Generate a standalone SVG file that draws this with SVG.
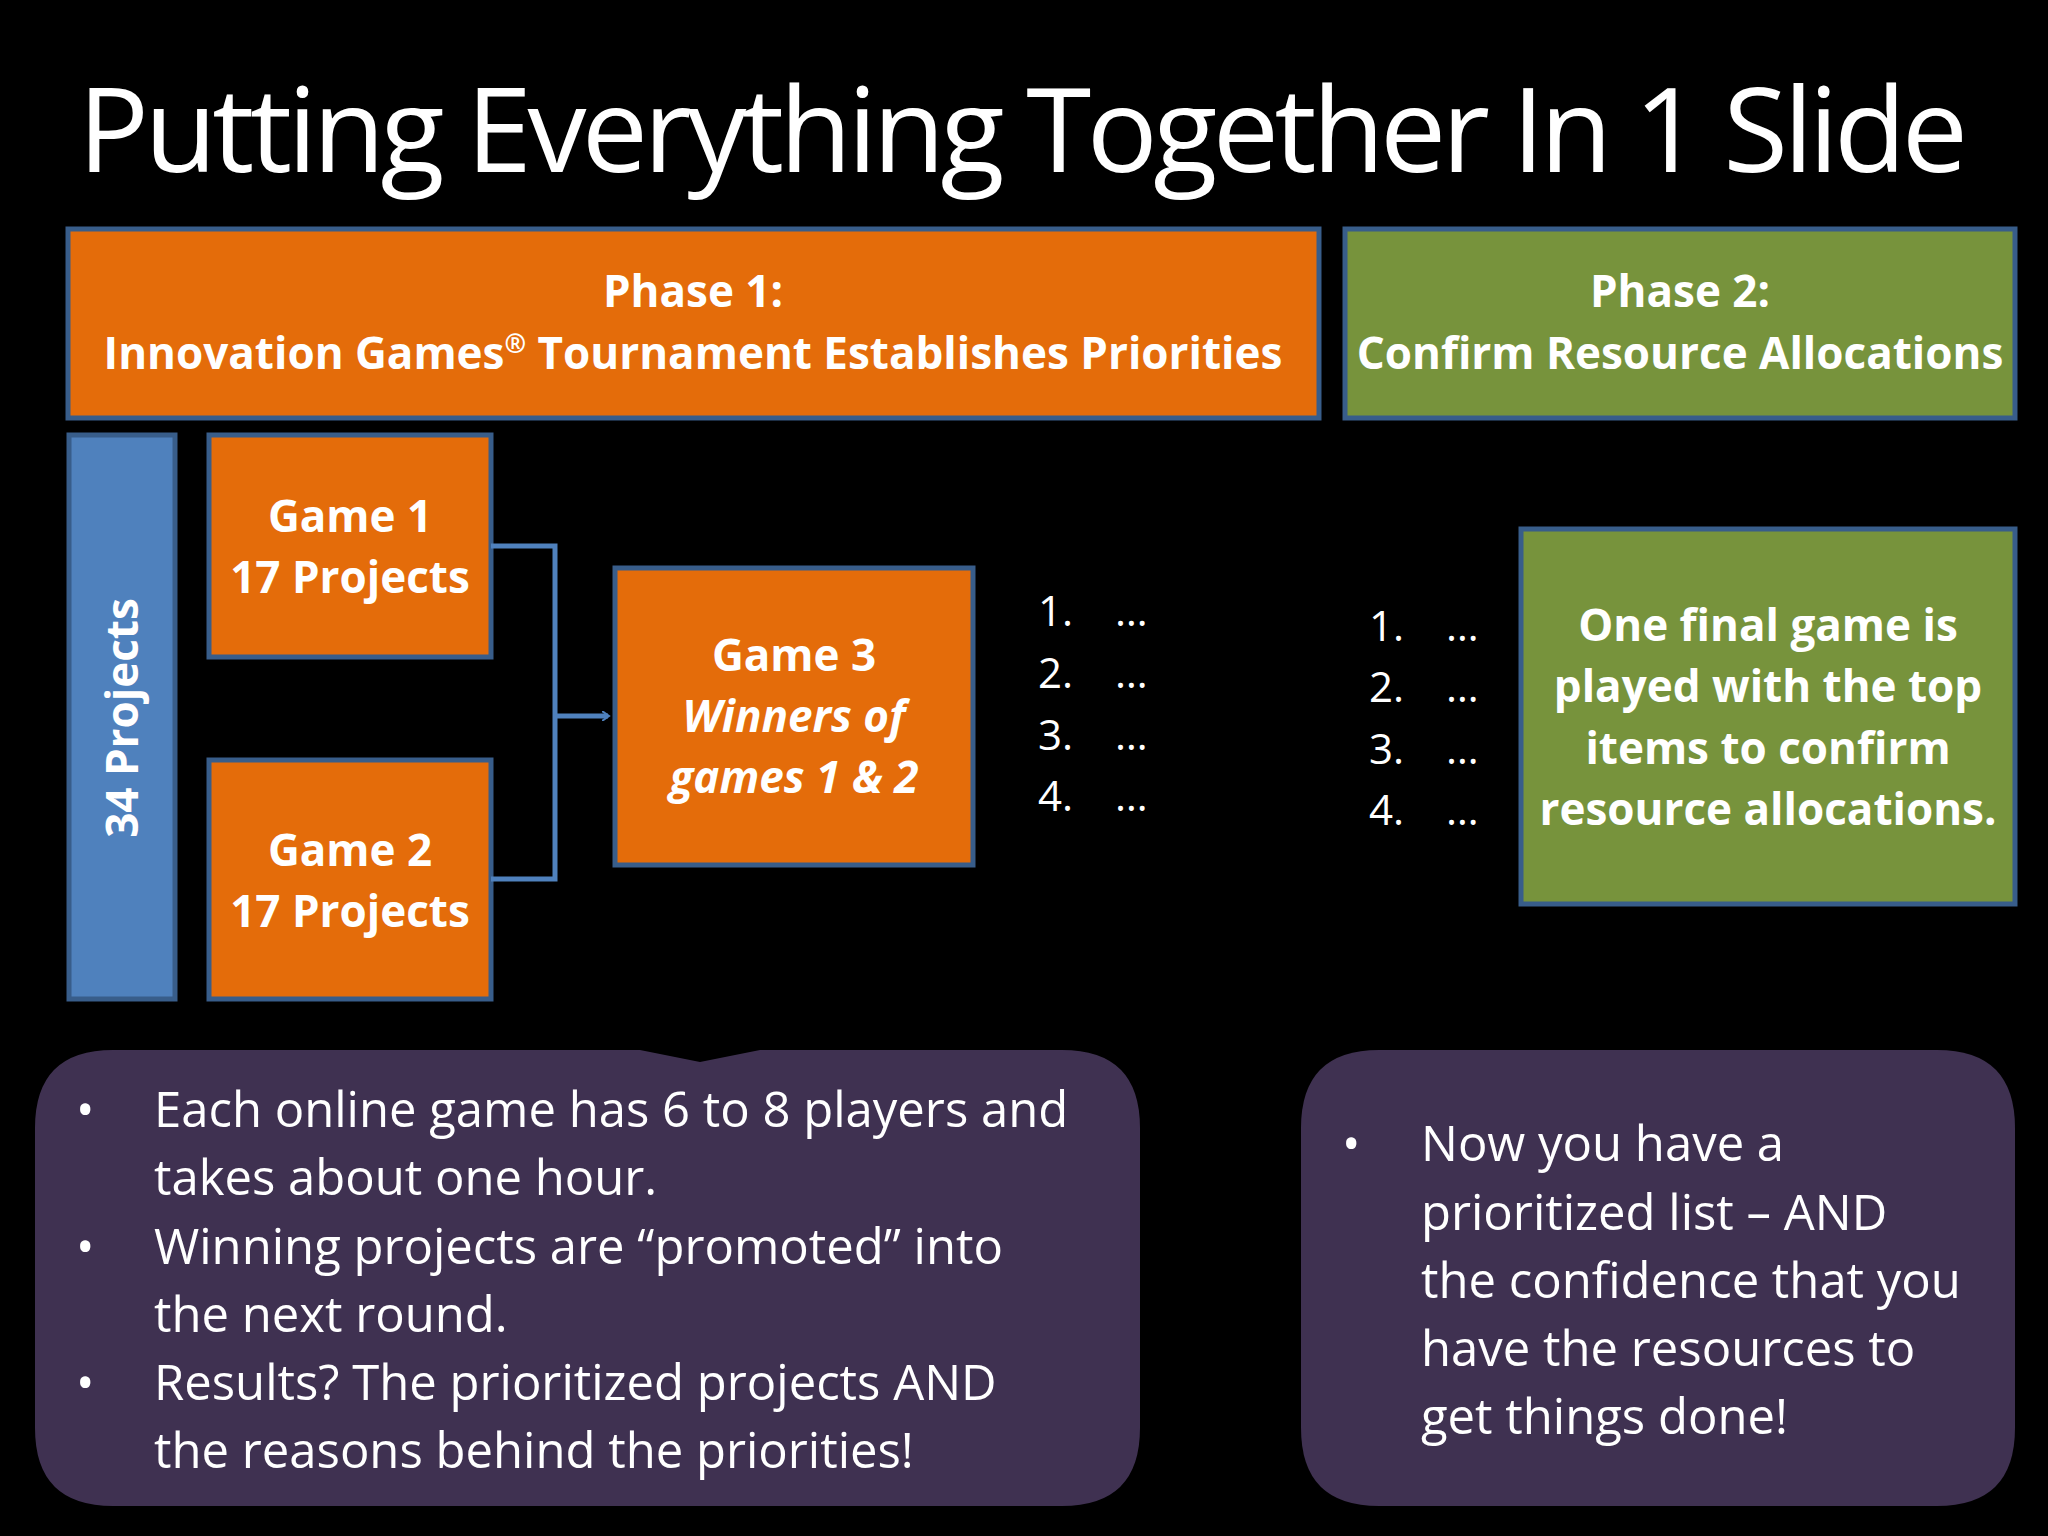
<svg xmlns="http://www.w3.org/2000/svg" width="2048" height="1536" viewBox="0 0 2048 1536">
<style>
.t{font-family:"Open Sans","Liberation Sans",sans-serif;fill:#fff}
.b{font-weight:bold;font-size:44px;text-anchor:middle}
.l{font-size:42px}
.c{font-size:49px}
.or{fill:#E46C0A;stroke:#385D8A;stroke-width:5}
.gr{fill:#77933C;stroke:#385D8A;stroke-width:5}
.cal{fill:#3F3151}
</style>
<defs><marker id="ar" markerWidth="10" markerHeight="10" refX="6" refY="5" orient="auto" markerUnits="userSpaceOnUse" viewBox="0 0 10 10"><path d="M0,0 L7,5 L0,10" fill="none" stroke="#4F81BD" stroke-width="2"/></marker></defs>
<rect width="2048" height="1536" fill="#000"/>
<text class="t" x="78" y="172" font-size="118" textLength="1890">Putting Everything Together In 1 Slide</text>
<g id="phase1"><rect class="or" x="68" y="229" width="1251" height="189"/>
<text class="t b" x="693" y="307">Phase 1:</text>
<text class="t b" x="693" y="369">Innovation Games<tspan font-size="26" dy="-16">®</tspan><tspan dy="16"> Tournament Establishes Priorities</tspan></text></g>
<g id="phase2"><rect class="gr" x="1345" y="229" width="670" height="189"/>
<text class="t b" x="1680" y="307">Phase 2:</text>
<text class="t b" x="1680" y="369">Confirm Resource Allocations</text></g>
<g id="projects"><rect x="69" y="435" width="106" height="564" fill="#4F81BD" stroke="#385D8A" stroke-width="5"/>
<text class="t b" transform="translate(138,718) rotate(-90)">34 Projects</text></g>
<g id="game1"><rect class="or" x="209" y="435" width="282" height="222"/>
<text class="t b" x="350" y="532">Game 1</text><text class="t b" x="350" y="593">17 Projects</text></g>
<g id="game2"><rect class="or" x="209" y="760" width="282" height="239"/>
<text class="t b" x="350" y="866">Game 2</text><text class="t b" x="350" y="927">17 Projects</text></g>
<g id="game3"><rect class="or" x="615" y="568" width="358" height="297"/>
<text class="t b" x="794" y="671">Game 3</text>
<text class="t b" x="794" y="732" font-style="italic">Winners of</text>
<text class="t b" x="794" y="793" font-style="italic">games 1 &amp; 2</text></g>
<g id="connectors" fill="none" stroke="#4F81BD" stroke-width="5">
<path d="M491,546 H555 V879 H491"/>
<path d="M555,716 H608" marker-end="url(#ar)"/></g>
<g id="list1" class="t l">
<text x="1038" y="626">1.</text><text x="1115" y="626">…</text>
<text x="1038" y="688">2.</text><text x="1115" y="688">…</text>
<text x="1038" y="750">3.</text><text x="1115" y="750">…</text>
<text x="1038" y="811">4.</text><text x="1115" y="811">…</text></g>
<g id="list2" class="t l">
<text x="1369" y="641">1.</text><text x="1446" y="641">…</text>
<text x="1369" y="702">2.</text><text x="1446" y="702">…</text>
<text x="1369" y="764">3.</text><text x="1446" y="764">…</text>
<text x="1369" y="825">4.</text><text x="1446" y="825">…</text></g>
<g id="final"><rect class="gr" x="1521" y="529" width="494" height="375"/>
<text class="t b" x="1768" y="641">One final game is</text>
<text class="t b" x="1768" y="702">played with the top</text>
<text class="t b" x="1768" y="764">items to confirm</text>
<text class="t b" x="1768" y="825">resource allocations.</text></g>
<g id="callout1"><path class="cal" d="M113,1050 H640 L700,1062 L760,1050 H1062 Q1140,1050 1140,1128 V1428 Q1140,1506 1062,1506 H113 Q35,1506 35,1428 V1128 Q35,1050 113,1050 Z"/>
<g class="t c"><text x="76" y="1127">•</text><text x="154" y="1127">Each online game has 6 to 8 players and</text>
<text x="154" y="1195">takes about one hour.</text>
<text x="76" y="1264">•</text><text x="154" y="1264">Winning projects are “promoted” into</text>
<text x="154" y="1332">the next round.</text>
<text x="76" y="1400">•</text><text x="154" y="1400">Results? The prioritized projects AND</text>
<text x="154" y="1468">the reasons behind the priorities!</text></g></g>
<g id="callout2"><path class="cal" d="M1379,1050 H1937 Q2015,1050 2015,1128 V1428 Q2015,1506 1937,1506 H1379 Q1301,1506 1301,1428 V1128 Q1301,1050 1379,1050 Z"/>
<g class="t c"><text x="1342" y="1161">•</text><text x="1421" y="1161">Now you have a</text>
<text x="1421" y="1230">prioritized list – AND</text>
<text x="1421" y="1298">the confidence that you</text>
<text x="1421" y="1366">have the resources to</text>
<text x="1421" y="1434">get things done!</text></g></g>
</svg>
